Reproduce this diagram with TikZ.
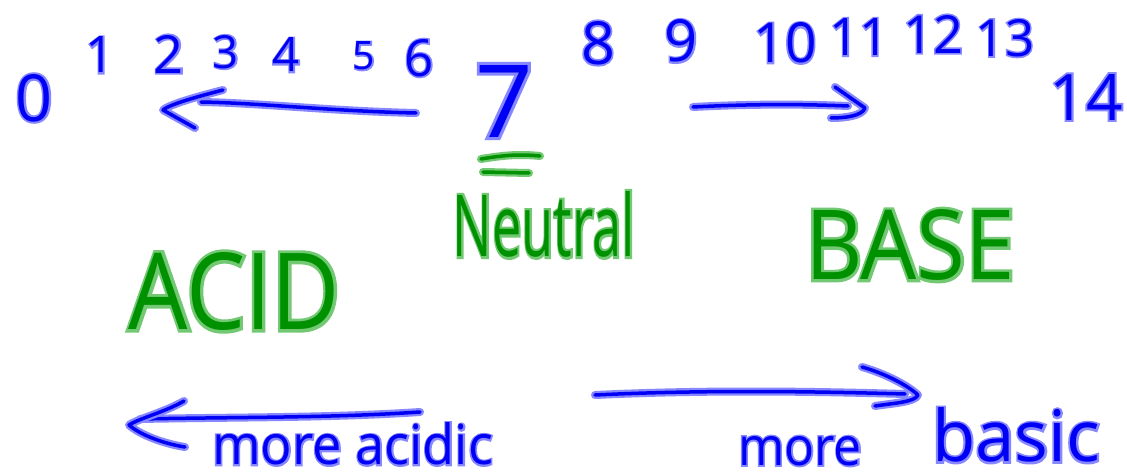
\documentclass[tikz,border=0pt]{standalone}
\usepackage{fontspec}
\setmainfont{Open Sans}
\newfontfamily\halofont{Open Sans}[FakeBold=6]
\usepackage{graphicx}
\definecolor{pen}{RGB}{0,0,245}
\definecolor{penhalo}{RGB}{135,135,255}
\definecolor{gpen}{RGB}{0,145,0}
\definecolor{ghalo}{RGB}{115,200,115}
\newcommand{\hwh}[3]{\resizebox{!}{#1}{\fontsize{50}{50}\selectfont\rlap{\halofont\color{#2}#3}#3}}
\newcommand{\hwb}[4]{\resizebox{#1}{#2}{\fontsize{50}{50}\selectfont\rlap{\halofont\color{#3}#4}#4}}
\tikzset{
  bnum/.style={text=pen, inner sep=0pt},
  gword/.style={text=gpen, inner sep=0pt},
  stroke/.style={draw=pen, line width=3.5pt, line cap=round, line join=round,
    preaction={draw=penhalo, line width=8pt, line cap=round, line join=round}},
  gstroke/.style={draw=gpen, line width=3.5pt, line cap=round, line join=round,
    preaction={draw=ghalo, line width=8pt, line cap=round, line join=round}}
}
\begin{document}
\begin{tikzpicture}[x=1pt,y=-1pt]
\fill[white] (0,0) rectangle (1127,476);
\useasboundingbox (0,0) rectangle (1127,476);
% scale numbers
\node[bnum] (n0) at (34,98) {\hwh{47pt}{penhalo}{0}};
\node[bnum] (n1) at (100,55) {\hwh{36pt}{penhalo}{1}};
\node[bnum] (n2) at (169,54) {\hwh{38pt}{penhalo}{2}};
\node[bnum] (n3) at (226,52) {\hwh{33pt}{penhalo}{3}};
\node[bnum] (n4) at (286,55) {\hwh{34pt}{penhalo}{4}};
\node[bnum] (n5) at (364,56) {\hwh{28pt}{penhalo}{5}};
\node[bnum] (n6) at (419,58) {\hwh{37pt}{penhalo}{6}};
\node[bnum] (n7) at (504,101) {\hwh{72pt}{penhalo}{7}};
\node[bnum] (n8) at (598,43) {\hwh{43pt}{penhalo}{8}};
\node[bnum] (n9) at (681,41) {\hwh{42pt}{penhalo}{9}};
\node[bnum] (n10) at (785,43) {\hwh{40pt}{penhalo}{10}};
\node[bnum] (n11) at (859,37) {\hwh{37pt}{penhalo}{11}};
\node[bnum] (n12) at (933,34) {\hwh{38pt}{penhalo}{12}};
\node[bnum] (n13) at (1005,38) {\hwh{37pt}{penhalo}{13}};
\node[bnum] (n14) at (1086,97) {\hwh{46pt}{penhalo}{14}};
% equals sign under 7
\coordinate (eq1a) at (481,159); \coordinate (eq1b) at (540,156);
\coordinate (eq2a) at (483,172); \coordinate (eq2b) at (529,173);
\draw[gstroke] (eq1a) .. controls (505,155) and (520,154) .. (eq1b);
\draw[gstroke] (eq2a) -- (eq2b);
% green words
\node[gword] (neutral) at (544,224.5) {\hwb{182pt}{65pt}{ghalo}{Neutral}};
\node[gword] (acid) at (234.5,291.5) {\hwb{211pt}{77pt}{ghalo}{ACID}};
\node[gword] (base) at (910,245) {\hwb{210pt}{70pt}{ghalo}{BASE}};
% blue words
\node[bnum] (moreacidic) at (352.5,444) {\hwb{281pt}{42pt}{penhalo}{more acidic}};
\node[bnum] (more) at (800,451) {\hwb{124pt}{29pt}{penhalo}{more}};
\node[bnum] (basic) at (1016,435) {\hwb{168pt}{54pt}{penhalo}{basic}};
% top left arrow
\coordinate (tla) at (416,113); \coordinate (tlb) at (201,102);
\coordinate (tlt) at (163,110); \coordinate (tlu) at (223,90); \coordinate (tld) at (195,128);
\draw[stroke] (tla) .. controls (330,111) and (260,103) .. (tlb);
\draw[stroke] (tlu) .. controls (200,96) and (170,104) .. (tlt) -- (tld);
% top right arrow
\coordinate (tra) at (693,107); \coordinate (trb) at (848,106);
\coordinate (trt) at (865,108); \coordinate (tru) at (835,87); \coordinate (trd) at (831,118);
\draw[stroke] (tra) .. controls (750,104) and (800,104) .. (trb);
\draw[stroke] (tru) -- (trt) .. controls (862,116) and (845,118) .. (trd);
% bottom left arrow
\coordinate (bla) at (420,412); \coordinate (blb) at (140,419);
\coordinate (blt) at (129,425); \coordinate (blu) at (184,401); \coordinate (bld) at (185,447);
\draw[stroke] (bla) .. controls (330,418) and (240,417) .. (blb);
\draw[stroke] (blu) .. controls (165,412) and (140,418) .. (blt) .. controls (140,435) and (165,444) .. (bld);
% bottom right arrow
\coordinate (bra) at (595,395); \coordinate (brb) at (905,394);
\coordinate (brt) at (918,395); \coordinate (bru) at (862,367); \coordinate (brd) at (875,406);
\draw[stroke] (bra) .. controls (700,390) and (800,391) .. (brb);
\draw[stroke] (bru) .. controls (880,372) and (905,383) .. (brt) .. controls (915,402) and (895,403) .. (brd);
\end{tikzpicture}
\end{document}
